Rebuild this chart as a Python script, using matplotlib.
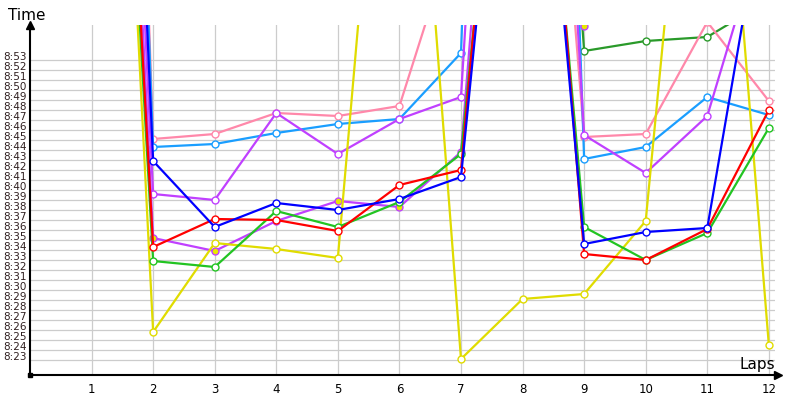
import numpy as np
import matplotlib
matplotlib.use("Agg")
import matplotlib.pyplot as plt

# -----------------------------------------------------
# Data (lap times in seconds, 8:23 = 503 s)
# -----------------------------------------------------

laps = list(range(1, 13))

red = [626, 514.3, 517.1, 517.0, 515.9, 520.5, 522.0, 590, 513.6, 513.0, 516.1, 528.0]
green = [622, 512.9, 512.3, 517.9, 516.3, 518.8, 523.6, 585, 516.3, 513.0, 515.7, 526.2]
blue = [660, 522.9, 516.3, 518.7, 518.0, 519.1, 521.3, 583, 514.6, 515.8, 516.2, 552]
light_blue = [690, 524.3, 524.6, 525.7, 526.6, 527.1, 533.7, 700, 523.1, 524.3, 529.3, 527.5]
pink = [700, 525.1, 525.6, 527.7, 527.4, 528.4, 547.8, 602, 525.3, 525.6, 536.8, 528.9]
purple = [648, 519.6, 519.0, 527.7, 523.6, 527.1, 529.3, 630, 525.5, 521.7, 527.4, 548]
purple_2 = [640, 515.2, 513.9, 516.9, 518.9, 518.3, 523.8, 600, 536.4, 600, 610, 600]
yellow = [628, 505.8, 514.7, 514.1, 513.2, 584, 503.1, 509.1, 509.6, 516.9, 581, 504.5]
dark_green = [np.nan] * 7 + [620, 533.9, 534.9, 535.3, 539]

y_ticks = list(range(503, 534))
y_labels = [f"{t // 60}:{t % 60:02d}" for t in y_ticks]

# -----------------------------------------------------
# Figure
# -----------------------------------------------------

fig = plt.figure(figsize=(8, 4), dpi=100)
ax = fig.add_axes([30 / 800, 25 / 400, 745 / 800, 350 / 400])

ax.set_xlim(0, 12.1)
ax.set_ylim(501.5, 536.5)

# grid: vertical lines full height, horizontal only on the tick rows
for lap in laps:
    ax.axvline(lap, color="#cccccc", lw=0.9, zorder=0)
for t in y_ticks:
    ax.axhline(t, color="#cccccc", lw=0.9, zorder=0)

series = [
    (dark_green, "#2a9a2a", "white"),
    (pink, "#ff88aa", "white"),
    (light_blue, "#1a9eff", "white"),
    (purple, "#c040ff", "white"),
    (purple_2, "#c040ff", "#e8e800"),
    (yellow, "#e0dc00", "white"),
    (green, "#22c422", "white"),
    (red, "#ff0000", "white"),
    (blue, "#0000ff", "white"),
]

for values, color, face in series:
    ax.plot(laps, values, color=color, lw=1.6, marker="o", markersize=5,
            markerfacecolor=face, markeredgecolor=color, markeredgewidth=1.0)

# -----------------------------------------------------
# Axes styling
# -----------------------------------------------------

for side in ["top", "right"]:
    ax.spines[side].set_visible(False)
for side in ["left", "bottom"]:
    ax.spines[side].set_linewidth(1.5)
    ax.spines[side].set_color("black")

ax.set_xticks(laps)
ax.set_xticklabels([str(l) for l in laps], fontsize=8.5)
ax.set_yticks(y_ticks)
ax.set_yticklabels(y_labels, fontsize=7.5, color="#302020")
ax.tick_params(axis="x", length=0, pad=6)
ax.tick_params(axis="y", length=0, pad=19)
for lbl in ax.get_yticklabels():
    lbl.set_ha("left")
    lbl.set_va("baseline")

# axis arrows and origin mark
ax.plot(0, 1.0, marker="^", color="black", markersize=6, transform=ax.transAxes,
        clip_on=False)
ax.plot(1.004, 0, marker=">", color="black", markersize=6, transform=ax.transAxes,
        clip_on=False)
ax.plot(0, 0, marker="s", color="black", markersize=3, transform=ax.transAxes,
        clip_on=False)

fig.text(8 / 800, 1 - 16 / 400, "Time", fontsize=11, va="center", ha="left")
fig.text(775 / 800, 1 - 364 / 400, "Laps", fontsize=11, va="center", ha="right")

fig.savefig("out.png", dpi=100)
plt.close(fig)
